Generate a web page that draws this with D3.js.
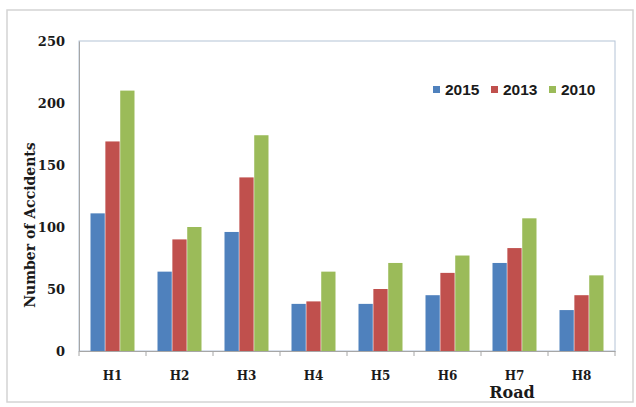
<!DOCTYPE html>
<html><head><meta charset="utf-8">
<script src="https://cdn.jsdelivr.net/npm/d3@7"></script>
<style>body{margin:0;background:#fff}</style>
</head><body>
<svg id="c" width="636" height="407"></svg>
<script>
const roads = ["H1","H2","H3","H4","H5","H6","H7","H8"];
const seriesNames = ["2015","2013","2010"];
const v2015 = [111, 64, 96, 38, 38, 45, 71, 33];
const v2013 = [169, 90, 140, 40, 50, 63, 83, 45];
const v2010 = [210, 100, 174, 64, 71, 77, 107, 61];
const yTicks = [0, 50, 100, 150, 200, 250];
const colors = ["#4f81bd", "#c0504d", "#9bbb59"];
const seriesVals = [v2015, v2013, v2010];

const svg = d3.select("#c");
svg.append("rect").attr("x", 7).attr("y", 10).attr("width", 626).attr("height", 392)
  .attr("fill", "#fff").attr("stroke", "#d4d4d4").attr("stroke-width", 1.5);

const L = 79, R = 615, T = 41, B = 351;
const x = d3.scaleBand().domain(roads).range([L, R]).padding(0);
const xs = d3.scaleBand().domain(seriesNames).range([11.5, x.bandwidth() - 11.5]).paddingInner(0.04);
const y = d3.scaleLinear().domain([0, 250]).range([B, T]);

svg.append("rect").attr("x", L).attr("y", T).attr("width", R - L).attr("height", B - T)
  .attr("fill", "none").attr("stroke", "#b4c3d6").attr("stroke-width", 1);

roads.forEach((r, i) => {
  seriesNames.forEach((s, j) => {
    const v = seriesVals[j][i];
    svg.append("rect")
      .attr("x", x(r) + xs(s)).attr("width", xs.bandwidth())
      .attr("y", y(v)).attr("height", y(0) - y(v))
      .attr("fill", colors[j]);
  });
});

const yAxis = svg.append("g").attr("transform", `translate(${L},0)`)
  .call(d3.axisLeft(y).tickValues(yTicks).tickSize(0).tickPadding(14));
yAxis.select(".domain").attr("stroke", "#a6a6a6");
yAxis.selectAll("text").attr("font-family", "DejaVu Serif").attr("font-weight", "bold")
  .attr("font-size", 13).attr("fill", "#1a1a1a");

const xAxis = svg.append("g").attr("transform", `translate(0,${B})`)
  .call(d3.axisBottom(x).tickSize(0).tickPadding(20));
xAxis.select(".domain").attr("stroke", "#a6a6a6");
xAxis.selectAll("text").attr("font-family", "DejaVu Serif").attr("font-weight", "bold")
  .attr("font-size", 12).attr("fill", "#1a1a1a");
const bounds = roads.map(r => x(r)).concat([R]);
svg.append("g").selectAll("line").data(bounds).join("line")
  .attr("x1", d => d).attr("x2", d => d).attr("y1", B).attr("y2", B + 5)
  .attr("stroke", "#a6a6a6");

svg.append("text").attr("transform", "translate(35,225) rotate(-90)")
  .attr("text-anchor", "middle").attr("font-family", "DejaVu Serif").attr("font-weight", "bold")
  .attr("font-size", 14).attr("fill", "#1a1a1a").text("Number of Accidents");
svg.append("text").attr("x", 512).attr("y", 398).attr("text-anchor", "middle")
  .attr("font-family", "DejaVu Serif").attr("font-weight", "bold")
  .attr("font-size", 16).attr("fill", "#1a1a1a").text("Road");

const legX = [433, 491, 549];
const leg = svg.append("g");
seriesNames.forEach((s, j) => {
  leg.append("rect").attr("x", legX[j]).attr("y", 86).attr("width", 7).attr("height", 7).attr("fill", colors[j]);
  leg.append("text").attr("x", legX[j] + 12).attr("y", 95)
    .attr("font-family", "Liberation Sans").attr("font-weight", "bold")
    .attr("font-size", 15.5).attr("fill", "#1a1a1a").text(s);
});
</script>
</body></html>
